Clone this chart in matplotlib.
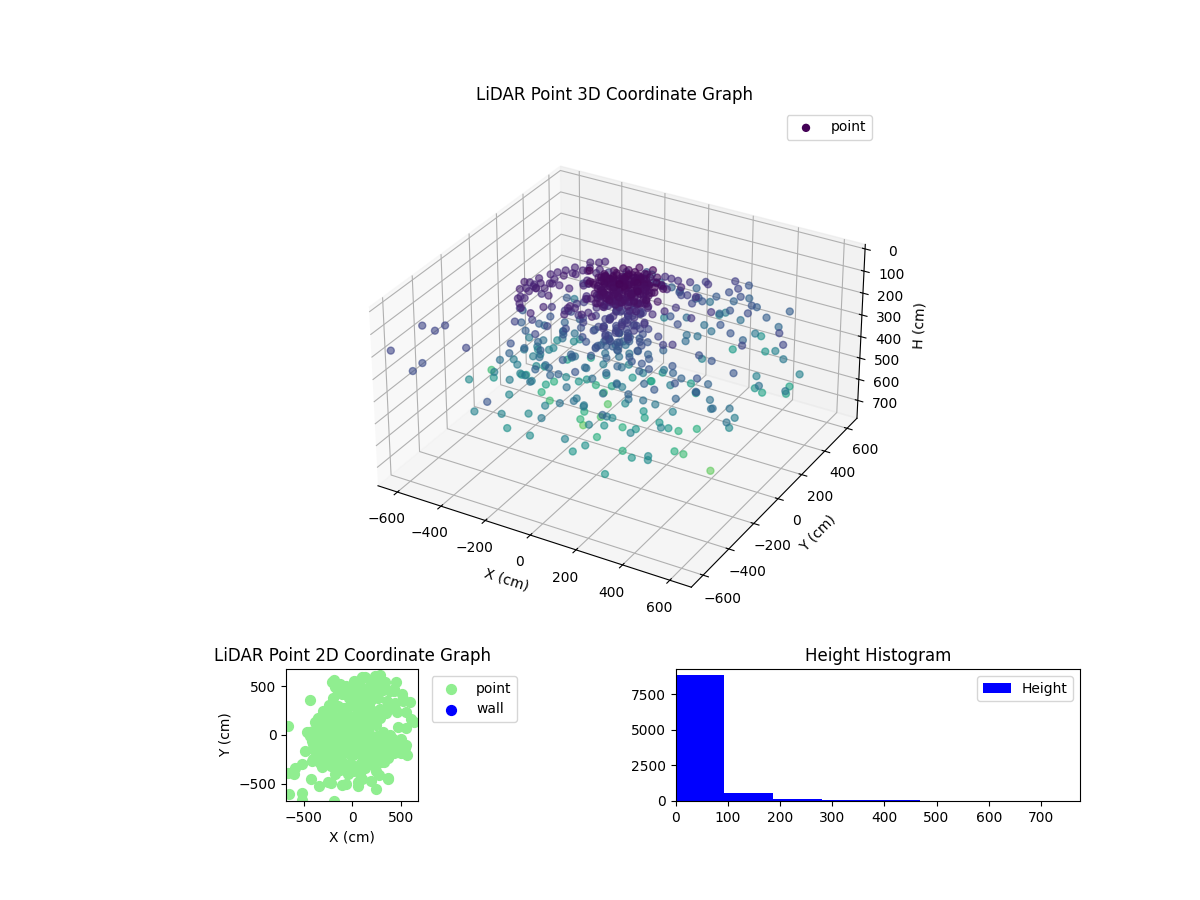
import matplotlib
matplotlib.use("Agg")
import matplotlib.pyplot as plt
from matplotlib.gridspec import GridSpec

x_cm = [
 -150,-135,-120,-110,-95,-85,-75,-60,-50,-40,
 -30,-20,-10,0,10,20,30,40,50,60,
 70,80,90,100,110,120,130,140,150,-70,
 -60,-45,-25,-15,5,15,35,45,65,75,
 -100,-70,-40,-10,20,50,80,110,-120,-90,
 -110,-90,-70,-50,-30,-10,10,30,50,70,
 90,110,-80,-60,-20,0,20,40,60,80,
 -40,-20,0,20,40,60,-60,-30,10,30,
 -100,-80,-60,-40,-20,0,20,40,60,80,
 -90,-50,-30,0,20,50,80,110,130,-130,
 -110,-70,-30,10,40,70,100,-10,30,60,
 0,-10,30,-50,10,50,-80,90,120,-30,
 -129,-109,-89,-68,-48,-28,-7,13,33,
 -105,-85,-65,-44,-24,-4,17,37,57,
 -81,-61,-41,-20,0,20,41,61,81,
 -57,-37,-17,4,24,44,65,85,105,
 -33,-13,7,28,48,68,89,109,129,
 -107,-87,-67,-46,-26,-5,15,35,
 -83,-63,-43,-22,-2,19,39,59,
 -59,-39,-19,2,22,43,63,83,
 -35,-15,5,26,46,67,87,107,
 -109,-89,-68,-48,-28,-7,13,
 -85,-65,-44,-24,-4,17,37,
 -61,-41,-20,0,20,41,61,
 -37,-17,4,24,44,65,85,
 -13,7,28,48,68,89,109,
 104,166,110,115,130,158,-157,-188,-138,-88,
 -96,-156,6,-62,-4,-42,-15,-17,109,116,
 -660,-596,-585,-656,-421,-520,-518,-183,-515,-663,
 -485,-415,-332,-402,-431,-254,-352,-333,-324,-352,
 -402,-368,-389,-321,-406,-349,-333,-340,-341,-440,
 -335,-357,-370,-466,-419,-354,-375,-243,-318,-306,
 -378,-278,-316,-257,-304,-213,-163,-343,-358,-352,
 -127,-104,-198,-14,-79,-278,-181,-162,-194,-93,
 -179,6,17,-161,192,112,-129,-130,-180,85,
 -119,89,59,190,150,138,244,65,146,279,
 365,319,321,417,10,294,260,314,530,551,
 312,219,446,481,190,410,423,439,442,557,
 462,506,406,315,268,281,186,223,69,20,
 513,527,640,600,522,435,341,205,215,391,
 345,285,166,138,171,230,151,379,475,607,
 553,285,435,333,391,447,319,360,320,243,
 201,265,208,250,233,228,130,173,104,75,
 44,15,137,97,21,207,82,148,135,80,
 151,156,290,265,135,106,256,287,352,151,
 199,158,78,247,86,-75,
 -334,-361,-377,-390,-376,-354,-339,-320,-301,-262,
 -270,-240,-223,-208,-344,-318,-278,-232,-196,-205,
 -271,-312,-258,-241,-156,-132,-134,-142,-84,-84,
 -42,
 -159,-252,-291,-18,-72,-38,-81,-96,-25,-74,
 -14,8,70,172,131,-80,36,-18,87,216,
 -70,70,-14,23,213,178,101,
 -385,-370,-350,-395,-360,-340,-375,-345,-330,-310,
 -300,-320,-290,-280,-260,-250,-230,-215,
 -120,-100,-70,-50,-30,0,30,60,90,120,
 -140,-110,-60,-10,40,80,110,150,170,-160,
 -180,-210,-240,-220,-190,-170,-130,-150,-200,-240,
 -300,-270,-240,-200,-160,-110,-70,-20,-280,-340,
 -350,-220,-130,-40,30,90,130,200,230,260,
 -310,-180,-60,250,330,370,-400,-250,-100,60,
 250,-340,370,-220,100,
 -174,-190,-130,-205,-150,-100,-200,-240,-300,-350,
 -430,-60,-30,-150,-80,-20,30,0,60,100,
 -280,-220,-120,-50,50,120,200,
 -95,-75,-55,-35,-15,5,25,45,65,85,
 -70,-50,-30,-10,10,30,50,70,90,110,
 -60,-40,-20,0,20,40,60,80,
 -45,-25,-5,15,35,55,
 -50,-30,-10,10,30,50,
 -60,-35,-15,5,25,45,
 -20,0,20,
 300,360,430,500,540,570,-380,-360,-330,-300,
 -260,-250,-330,-190,
]
y_cm = [
 10,-20,40,-30,60,-10,30,-50,70,0,
 90,-60,40,-20,110,60,-70,20,80,-30,
 50,-50,20,90,-20,40,-40,70,10,80,
 -10,40,10,-40,-10,20,40,-20,10,-10,
 110,130,120,150,140,150,130,110,-60,-80,
 20,-40,50,-20,40,-50,30,-30,60,-10,
 40,-20,-80,70,-90,80,-70,90,-60,20,
 -30,10,-20,20,-10,30,-60,-70,-50,-90,
 -40,-70,-30,-80,-30,-60,-20,-60,10,-20,
 30,20,-10,20,50,30,30,10,20,-20,
 50,70,70,80,50,80,50,100,110,110,
 50,-10,0,-50,-40,-30,0,-50,-10,30,
 42,53,64,76,87,98,110,121,132,
 -2,9,20,32,43,54,66,77,88,
 -45,-34,-23,-11,0,11,23,34,45,
 -88,-77,-66,-54,-43,-32,-20,-9,2,
 -132,-121,-110,-98,-87,-76,-64,-53,-42,
 25,37,48,59,71,82,93,105,
 -18,-6,5,16,28,39,50,62,
 -62,-50,-39,-28,-16,-5,6,18,
 -105,-93,-82,-71,-59,-48,-37,-25,
 53,64,76,87,98,110,121,
 9,20,32,43,54,66,77,
 -34,-23,-11,0,11,23,34,
 -77,-66,-54,-43,-32,-20,-9,
 -121,-110,-98,-87,-76,-64,-53,
 20,-12,5,-30,6,50,-125,-86,-95,-105,
 -35,-31,-138,88,54,-128,-46,38,-72,-2,
 -390,-399,-345,-611,-451,-602,-670,-680,-296,93,
 -166,-269,-290,-92,-13,-255,-27,3,-39,68,
 -148,-176,-91,-197,38,-90,-63,14,49,29,
 -35,-45,-108,26,-60,-34,39,-154,-8,66,
 139,15,164,73,190,-24,-82,-77,8,172,
 -325,-303,-92,-329,-138,232,-25,4,128,80,
 164,-374,-321,165,-478,-268,-72,-101,4,-397,
 38,-290,-99,-225,-95,-65,-138,-483,-249,-411,
 -439,-153,-85,-42,-211,-157,-15,34,-111,-108,
 -157,198,-111,-167,210,-158,-85,273,331,74,
 239,-39,-142,-98,-78,-107,-1,-17,199,190,
 427,370,134,335,347,450,549,530,252,1,
 -15,-115,206,266,294,-89,55,278,86,169,
 242,620,472,472,452,542,508,352,462,589,
 537,472,482,478,603,494,432,371,351,306,
 308,310,218,177,559,210,320,489,396,564,
 282,143,180,384,595,597,493,264,225,386,
 356,155,374,100,227,467,
 -205,-173,-87,-39,7,57,85,114,153,147,
 218,235,253,186,-69,-8,-3,-6,42,84,
 -95,-230,-248,-182,-143,-130,-46,-193,-56,-161,
 -156,
 63,105,55,-95,74,93,2,-110,-193,-3,
 1,42,1,-149,-154,-7,-65,84,11,-172,
 -1,-121,106,192,-203,-260,-151,
 -120,-140,-110,-70,-60,-40,-30,-150,-90,-60,
 -20,30,50,100,90,180,130,170,
 -90,-130,-60,-100,-150,-120,-80,-140,-100,-60,
 -150,-190,-180,-210,-190,-180,-230,-130,-90,-40,
 -120,-90,-40,-60,-20,20,30,80,50,20,
 -130,-170,-210,-240,-280,-260,-300,-310,-260,-200,
 -260,-320,-360,-400,-340,-300,-340,-300,-240,-200,
 -330,-400,-500,-370,-280,-240,-250,-480,-520,-530,
 -560,-530,-450,-490,-450,
 498,570,530,550,440,420,380,310,250,170,
 360,500,380,300,280,300,400,460,480,430,
 180,240,220,200,220,300,420,
 35,45,55,65,75,85,95,105,80,60,
 -5,5,15,25,35,45,55,65,35,15,
 -50,-40,-30,-20,-10,0,10,20,
 -85,-75,-65,-55,-45,-35,
 40,50,60,25,30,0,
 -25,-35,-20,-50,-10,-40,
 -70,-90,-60,
 -280,-230,-190,-190,-130,-210,-130,-200,-50,-170,
 -90,-230,-280,-330,
]
h_cm = [
 5,45,55,30,70,25,50,40,65,20,
 35,75,15,10,50,30,60,20,45,35,
 25,55,40,30,65,20,50,35,60,85,
 80,90,85,60,90,70,85,75,90,80,
 40,30,25,20,35,15,30,45,90,70,
 110,130,150,120,170,140,190,160,130,180,
 120,150,210,170,230,200,240,180,220,230,
 260,250,270,280,240,260,280,270,290,260,
 30,50,20,40,25,35,15,45,30,20,
 25,15,35,20,25,15,35,45,30,35,
 45,55,30,45,65,40,55,30,40,25,
 75,95,90,100,100,110,100,90,80,70,
 45,30,50,25,40,35,20,45,30,
 55,35,25,45,30,50,40,25,60,
 40,60,30,50,35,25,55,40,30,
 55,30,45,65,40,30,50,35,60,
 50,65,35,55,45,60,40,50,35,
 30,45,25,40,55,35,20,40,
 50,30,45,20,35,60,25,45,
 35,55,30,45,25,50,35,60,
 60,40,55,35,50,30,65,45,
 170,150,190,140,180,160,200,
 150,200,170,130,190,160,180,
 210,170,140,190,160,200,150,
 180,150,200,170,210,140,190,
 160,210,180,150,200,170,220,
 200,200,250,150,120,120,100,150,150,120,
 170,200,180,300,280,250,280,300,250,300,
 200,200,200,200,200,220,220,250,450,650,
 500,400,400,500,550,400,600,650,550,600,
 400,400,380,300,450,400,400,420,430,400,
 350,380,280,280,280,280,330,200,250,350,
 450,350,450,350,450,400,350,450,500,550,
 300,300,450,250,350,550,500,500,600,550,
 650,350,400,700,300,450,600,620,720,420,
 680,480,600,500,500,550,500,500,600,500,
 450,600,650,720,600,500,600,600,450,400,
 420,550,350,350,520,300,300,500,550,350,
 420,250,250,300,300,250,350,400,500,550,
 550,550,380,420,380,420,500,520,420,250,
 230,150,330,340,350,180,300,300,200,200,
 200,480,320,380,280,280,280,220,250,300,
 300,230,230,200,250,180,180,150,150,130,
 130,130,100,100,300,120,200,270,250,350,
 200,150,150,250,400,420,350,250,250,350,
 350,230,330,150,250,420,
 100,100,100,100,100,100,100,100,100,100,
 100,100,100,100,100,100,100,100,100,100,
 100,100,100,100,100,100,100,100,100,100,
 100,
 300,300,300,200,350,350,300,250,250,350,
 350,350,300,250,250,400,350,430,400,250,
 450,400,500,550,300,350,450,
 90,110,95,85,100,90,110,105,85,95,
 90,100,85,95,90,100,85,110,
 180,220,200,260,240,290,250,300,270,230,
 300,280,320,340,310,350,320,300,260,240,
 210,260,280,170,150,130,120,150,180,220,
 300,340,280,320,300,260,350,380,380,420,
 300,360,420,360,380,330,400,300,350,380,
 440,450,380,420,420,300,350,430,460,420,
 500,420,460,480,480,
 250,300,300,320,280,240,200,180,220,260,
 380,290,220,170,150,160,240,270,300,260,
 180,160,130,110,120,180,300,
 25,40,20,35,15,30,25,35,40,30,
 45,30,40,20,35,25,45,30,40,35,
 50,35,45,30,40,25,35,50,
 45,55,40,50,60,45,
 150,170,130,160,140,190,
 180,170,200,190,210,160,
 220,230,200,
 260,240,280,330,350,360,170,190,130,180,
 150,200,240,290,
]
hist_edges = [0, 93.6, 187.2, 280.8, 374.4, 468, 561.6, 655.2, 748.8]
hist_counts = [8850, 560, 140, 70, 70, 15, 8, 3]

fig = plt.figure(figsize=(12, 9), dpi=100)
gs = GridSpec(2, 2, height_ratios=[4, 1], hspace=0.1, wspace=0.3, figure=fig)

ax3d = fig.add_subplot(gs[0, :], projection="3d")
ax3d.scatter(x_cm, y_cm, h_cm, c=h_cm, cmap="viridis", vmin=0, vmax=950, s=25,
             alpha=0.6, depthshade=False, label="point")
ax3d.set_xlim(-690, 690)
ax3d.set_ylim(-690, 690)
ax3d.set_zlim(785, -20)
ax3d.set_box_aspect((1360, 1360, 775))
ax3d.set_xlabel("X (cm)")
ax3d.set_ylabel("Y (cm)")
ax3d.set_zlabel("H (cm)")
ax3d.set_title("LiDAR Point 3D Coordinate Graph")
leg = ax3d.legend(loc="upper right")
leg.legend_handles[0].set_alpha(1)

ax2 = fig.add_subplot(gs[1, 0])
ax2.scatter(x_cm, y_cm, c="lightgreen", s=50, label="point")
ax2.scatter([], [], c="blue", s=50, label="wall")
ax2.set_xlim(-680, 680)
ax2.set_ylim(-680, 680)
ax2.set_aspect("equal")
ax2.set_xlabel("X (cm)")
ax2.set_ylabel("Y (cm)")
ax2.set_title("LiDAR Point 2D Coordinate Graph")
ax2.legend(loc="upper left", bbox_to_anchor=(1.05, 1))

ax3 = fig.add_subplot(gs[1, 1])
ax3.bar(hist_edges[:-1], hist_counts, width=93.6, align="edge", color="blue", label="Height")
ax3.set_xlim(0, 775)
ax3.set_title("Height Histogram")
ax3.legend(loc="upper right")

fig.savefig("out.png", dpi=100)
